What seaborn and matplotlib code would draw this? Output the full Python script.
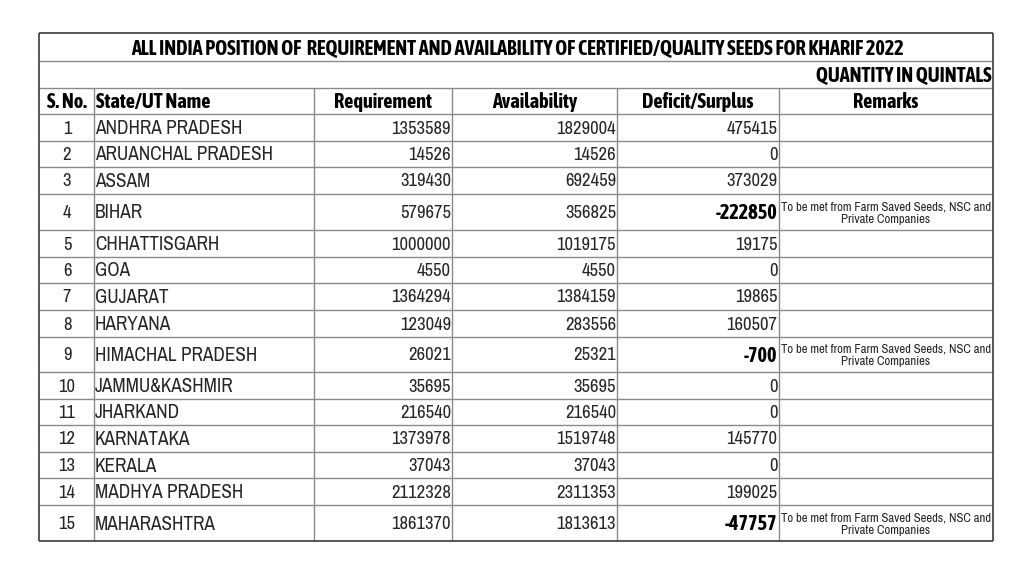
import matplotlib
matplotlib.use("Agg")
import matplotlib.pyplot as plt
import seaborn as sns

sns.set_theme(style="white")
plt.rcParams['font.family'] = ['Liberation Sans Narrow', 'Archivo Narrow', 'DejaVu Sans']
BOLD_FAMILY = ['Liberation Sans Narrow', 'Asap Condensed', 'Archivo Narrow', 'DejaVu Sans']

title = "ALL INDIA POSITION OF  REQUIREMENT AND AVAILABILITY OF CERTIFIED/QUALITY SEEDS FOR KHARIF 2022"
unit_label = "QUANTITY IN QUINTALS"
headers = ["S. No.", "State/UT Name", "Requirement", "Availability", "Deficit/Surplus", "Remarks"]
sno = list(range(1, 16))
states = ["ANDHRA PRADESH", "ARUANCHAL PRADESH", "ASSAM", "BIHAR", "CHHATTISGARH", "GOA",
          "GUJARAT", "HARYANA", "HIMACHAL PRADESH", "JAMMU&KASHMIR", "JHARKAND", "KARNATAKA",
          "KERALA", "MADHYA PRADESH", "MAHARASHTRA"]
requirement = [1353589, 14526, 319430, 579675, 1000000, 4550, 1364294, 123049, 26021, 35695,
               216540, 1373978, 37043, 2112328, 1861370]
availability = [1829004, 14526, 692459, 356825, 1019175, 4550, 1384159, 283556, 25321, 35695,
                 216540, 1519748, 37043, 2311353, 1813613]
deficit = [475415, 0, 373029, -222850, 19175, 0, 19865, 160507, -700, 0, 0, 145770, 0, 199025, -47757]
remark_text = "To be met from Farm Saved Seeds, NSC and\nPrivate Companies"
remarks = ["", "", "", remark_text, "", "", "", "", remark_text, "", "", "", "", "", remark_text]

# layout (pixel coordinates)
col_x = [39, 94, 314, 452, 617, 779, 993]
row_y = [33, 61, 88, 114, 141, 167, 194, 230, 257, 283, 310, 337, 372, 399, 425, 452, 478, 505, 541]

fig = plt.figure(figsize=(10.24, 5.76), dpi=100)
ax = fig.add_axes([0, 0, 1, 1])
ax.set_xlim(0, 1024)
ax.set_ylim(576, 0)
ax.axis("off")

inner = "#8a8a8a"
outer = "#3a3a3a"
for y in row_y[1:-1]:
    ax.hlines(y, col_x[0], col_x[-1], color=inner, lw=1.0)
for x in col_x[1:-1]:
    ax.vlines(x, row_y[2], row_y[-1], color=inner, lw=1.0)
ax.hlines([row_y[0], row_y[-1]], col_x[0], col_x[-1], color=outer, lw=1.2)
ax.vlines([col_x[0], col_x[-1]], row_y[0], row_y[-1], color=outer, lw=1.2)

fs_b = 14.6
fs_t = 13.9
fs_n = 13.4
bkw = dict(family=BOLD_FAMILY, fontweight="bold", color="black")

ax.text(517, (row_y[0] + row_y[1]) / 2 + 1, title, ha="center", va="center", fontsize=fs_b, **bkw)
ax.text(col_x[-1] - 1, (row_y[1] + row_y[2]) / 2 + 1, unit_label, ha="right", va="center",
        fontsize=fs_b, **bkw)

hy = (row_y[2] + row_y[3]) / 2 + 1
ax.text(67, hy, headers[0], ha="center", va="center", fontsize=fs_b, **bkw)
ax.text(col_x[1] + 2, hy, headers[1], ha="left", va="center", fontsize=fs_b, **bkw)
for i in range(2, 6):
    ax.text((col_x[i] + col_x[i + 1]) / 2, hy, headers[i], ha="center", va="center",
            fontsize=fs_b, **bkw)

for i in range(len(states)):
    y0, y1 = row_y[i + 3], row_y[i + 4]
    yc = (y0 + y1) / 2 + 1
    ax.text(67, yc, str(sno[i]), ha="center", va="center", fontsize=fs_n)
    ax.text(col_x[1] + 1, yc, states[i], ha="left", va="center", fontsize=fs_t)
    ax.text(col_x[3] - 1, yc, str(requirement[i]), ha="right", va="center", fontsize=fs_n)
    ax.text(col_x[4] - 1, yc, str(availability[i]), ha="right", va="center", fontsize=fs_n)
    if deficit[i] < 0:
        ax.text(col_x[5] - 1.5, yc, str(deficit[i]), ha="right", va="center", fontsize=fs_b, **bkw)
    else:
        ax.text(col_x[5] - 1.5, yc, str(deficit[i]), ha="right", va="center", fontsize=fs_n)
    if remarks[i]:
        ax.text((col_x[5] + col_x[6]) / 2, yc, remarks[i], ha="center", va="center",
                fontsize=9.2, linespacing=1.15)

fig.savefig("out.png", dpi=100, facecolor="white")
